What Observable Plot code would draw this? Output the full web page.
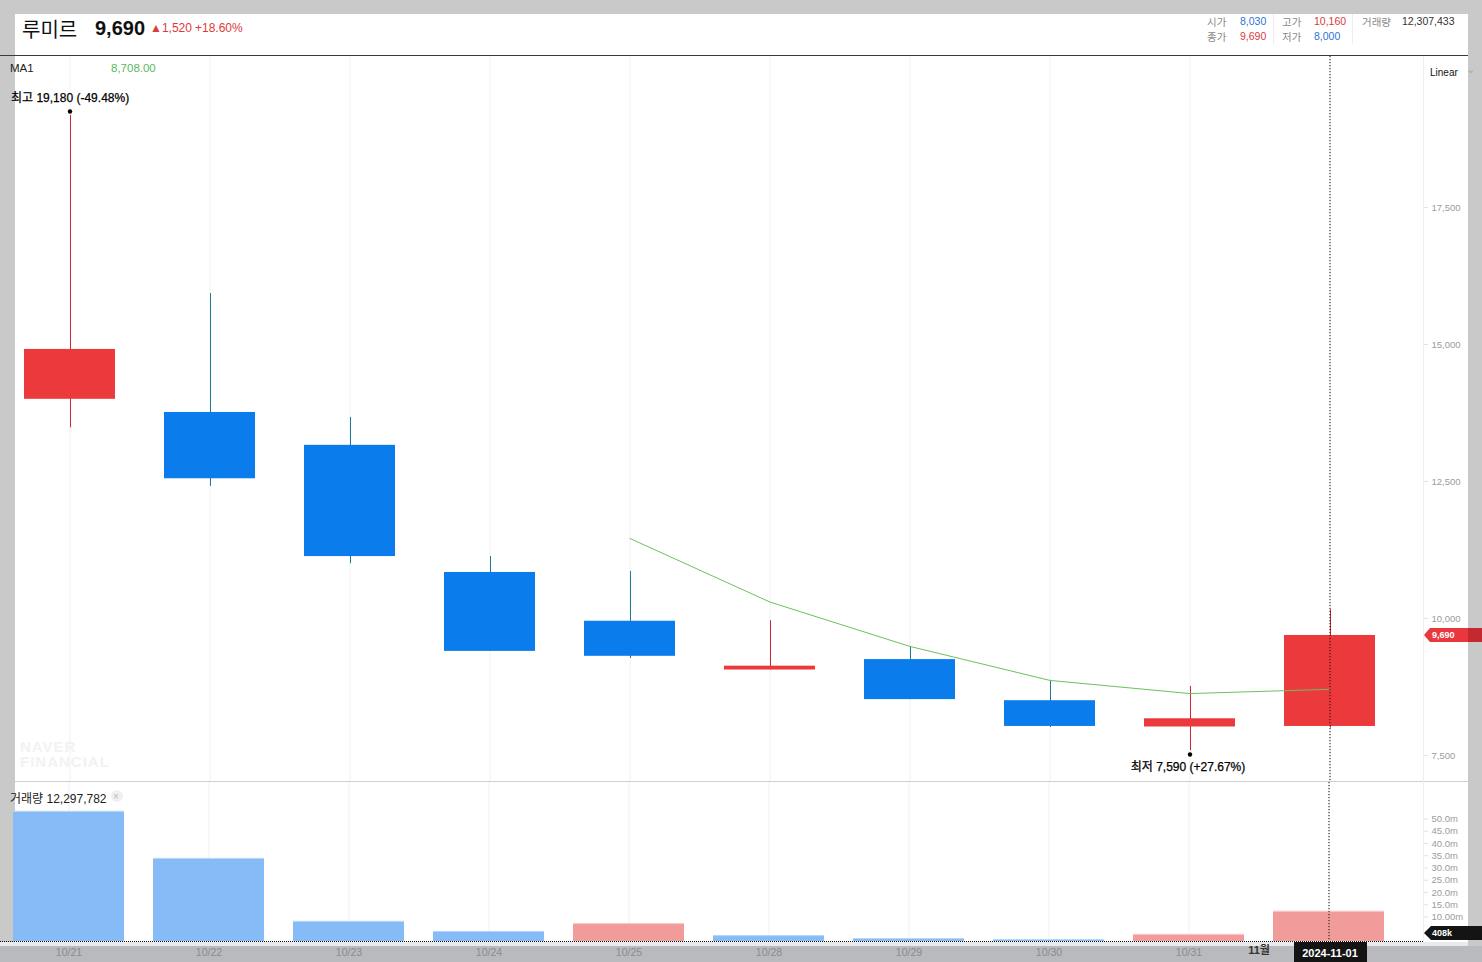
<!DOCTYPE html>
<html>
<head>
<meta charset="utf-8">
<script src="https://cdn.jsdelivr.net/npm/d3@7"></script>
<script src="https://cdn.jsdelivr.net/npm/@observablehq/plot@0.6"></script>
<style>
  html, body { margin: 0; padding: 0; }
  body { width: 1482px; height: 962px; background: #c9c9c9; position: relative; overflow: hidden;
         font-family: "Liberation Sans", "Noto Sans CJK KR", Arial, sans-serif; }
  .abs { position: absolute; }
  .lbl { position: absolute; white-space: nowrap; line-height: 1; }
</style>
</head>
<body>
<div id="root"></div>
<script>
// ---------------- data ----------------
const dates   = ["10/21","10/22","10/23","10/24","10/25","10/28","10/29","10/30","10/31","11/01"];
const opens   = [14000, 13760, 13160, 10840, 9950, 9060, 9250, 8500, 8020, 8030];
const closes  = [14910, 12550, 11130,  9400, 9310, 9130, 8520, 8030, 8170, 9690];
const highs   = [19180, 15930, 13670, 11130, 10860, 9960, 9490, 8870, 8760, 10160];
const lows    = [13480, 12410, 11000,  9400, 9270, 9060, 8520, 8010, 7590, 8000];
const volumes = [53100000, 33900000, 8200000, 4100000, 7300000, 2400000, 1200000, 800000, 2900000, 12307433];
const ma5     = [null, null, null, null, 11460, 10300, 9490, 8870, 8630, 8708];
const priceTicks  = [7500, 10000, 12500, 15000, 17500];
const volTicks    = [10e6, 15e6, 20e6, 25e6, 30e6, 35e6, 40e6, 45e6, 50e6];
const volTickLbls = ["10.00m","15.0m","20.0m","25.0m","30.0m","35.0m","40.0m","45.0m","50.0m"];
const stockName = "루미르";
const lastPrice = "9,690", change = "▲1,520", changePct = "+18.60%";
const hiLabel = "최고 19,180 (-49.48%)", loLabel = "최저 7,590 (+27.67%)";
const maLabel = "MA1", maValue = "8,708.00";
const volLabel = "거래량 12,297,782";
const crossDate = "11/01", crossDateFull = "2024-11-01", monthLabel = "11월";
const crossVolLabel = "408k", crossVol = 408000;

const rows = dates.map((d, i) => ({date: d, open: opens[i], close: closes[i], high: highs[i], low: lows[i],
  volume: volumes[i], ma: ma5[i], up: closes[i] >= opens[i],
  volUp: i > 0 && volumes[i] > volumes[i - 1]}));

const UP = "#ec393c", DOWN = "#0b7cec", UPW = "#d0282f", DOWNW = "#1f7a98", UPV = "#f29b9b", DOWNV = "#85bbf6";
const FONT = '"Liberation Sans", "Noto Sans CJK KR", Arial, sans-serif';
const root = document.getElementById("root");

function box(l, t, w, h, bg, extra = "") {
  const d = document.createElement("div");
  d.className = "abs";
  d.style.cssText = `left:${l}px;top:${t}px;width:${w}px;height:${h}px;background:${bg};${extra}`;
  root.appendChild(d); return d;
}
function label(txt, l, t, css) {
  const d = document.createElement("div");
  d.className = "lbl";
  d.style.cssText = `left:${l}px;top:${t}px;${css}`;
  d.innerHTML = txt; root.appendChild(d); return d;
}

// background panels
box(15, 14, 1453, 41, "#fff");
box(15, 56, 1453, 886, "#fff");
box(0, 942, 1468, 4, "#e8eaed");
box(0, 946, 1482, 16, "#b9babd");
box(0, 55, 1468, 1, "#3a3a3a");
box(15, 781, 1453, 1, "#cfcfcf");
box(1423, 56, 1, 886, "#eceef0");
// watermark
label("NAVER", 20, 739, "font:bold 15px/15px " + FONT + ";color:#f1f2f4;letter-spacing:1px;");
label("FINANCIAL", 20, 754, "font:bold 15px/15px " + FONT + ";color:#f1f2f4;letter-spacing:1px;");

// ---------------- price pane ----------------
const priceChart = Plot.plot({
  width: 1468, height: 725,
  marginLeft: 0, marginRight: 45, marginTop: 0, marginBottom: 0,
  style: {background: "transparent", overflow: "visible", fontFamily: FONT},
  x: {type: "band", domain: dates, range: [-1, 1399], paddingInner: 0.35, paddingOuter: 0.175, axis: null},
  y: {domain: [7025.5, 20255.5], range: [725, 0]},
  marks: [
    Plot.ruleX(dates, {x: d => d, stroke: "#f1f1f1"}),
    Plot.axisY({anchor: "right", ticks: priceTicks, tickSize: 4, tickPadding: 4, label: null,
      tickFormat: d3.format(","), fontSize: 9.5, stroke: "#e2e2e2", fill: "#9a9ca0"}),
    Plot.ruleX(rows, {x: "date", y1: "low", y2: "high", stroke: d => d.up ? UPW : DOWNW, strokeWidth: 1, dx: 0.5}),
    Plot.barY(rows.filter(d => d.up), {x: "date", y1: "open", y2: "close", fill: UP}),
    Plot.barY(rows.filter(d => !d.up), {x: "date", y1: "open", y2: "close", fill: DOWN}),
    Plot.line(rows.filter(d => d.ma != null), {x: "date", y: "ma", stroke: "#6cc05e", strokeWidth: 1}),
    Plot.ruleX([crossDate], {x: d => d, stroke: "#111", strokeDasharray: "1.2,1.8", strokeWidth: 1}),
    Plot.dot([rows[0]], {x: "date", y: "high", r: 2.2, fill: "#000", dy: -4}),
    Plot.text([rows[0]], {x: "date", y: "high", text: () => hiLabel, dx: -59, dy: -17, textAnchor: "start",
      fontSize: 12, fill: "#000", stroke: "#000", strokeWidth: 0.25}),
    Plot.dot([rows[8]], {x: "date", y: "low", r: 2.2, fill: "#000", dy: 4}),
    Plot.text([rows[8]], {x: "date", y: "low", text: () => loLabel, dx: -2, dy: 17, textAnchor: "middle",
      fontSize: 12, fill: "#000", stroke: "#000", strokeWidth: 0.25})
  ]
});
priceChart.style.position = "absolute";
priceChart.style.left = "0px";
priceChart.style.top = "56px";
root.appendChild(priceChart);

// ---------------- volume pane ----------------
const volChart = Plot.plot({
  width: 1468, height: 180,
  marginLeft: 0, marginRight: 45, marginTop: 0, marginBottom: 21,
  style: {background: "transparent", overflow: "visible", fontFamily: FONT},
  x: {type: "band", domain: dates, range: [-1, 1399], paddingInner: 0.207, paddingOuter: 0.1035},
  y: {domain: [0, 64.9e6], range: [159, 0]},
  marks: [
    Plot.ruleX(dates, {x: d => d, stroke: "#f1f1f1"}),
    Plot.barY(rows.filter(d => d.volUp), {x: "date", y: "volume", fill: UPV}),
    Plot.barY(rows.filter(d => !d.volUp), {x: "date", y: "volume", fill: DOWNV}),
    Plot.tickY(rows.filter(d => d.volUp), {x: "date", y: "volume", stroke: "#f8cccc"}),
    Plot.tickY(rows.filter(d => !d.volUp), {x: "date", y: "volume", stroke: "#b9d8fa"}),
    Plot.axisY({anchor: "right", ticks: volTicks, tickSize: 4, tickPadding: 4, label: null,
      tickFormat: d => volTickLbls[volTicks.indexOf(d)], fontSize: 9.5, stroke: "#e2e2e2", fill: "#9a9ca0"}),
    Plot.axisX({anchor: "bottom", tickSize: 0, tickPadding: 7, label: null,
      tickFormat: d => d === crossDate ? "" : d, fontSize: 10.5, fill: "#8a8b8f"}),
    Plot.text([crossDate], {x: d => d, frameAnchor: "bottom", text: () => monthLabel, dx: -70, dy: 12,
      fontSize: 11, fontWeight: "bold", fill: "#333"}),
    Plot.ruleY([0], {stroke: "#111", strokeDasharray: "1,1", strokeWidth: 1.2}),
    Plot.ruleX([crossDate], {x: d => d, stroke: "#111", strokeDasharray: "1.2,1.8", strokeWidth: 1})
  ]
});
volChart.style.position = "absolute";
volChart.style.left = "0px";
volChart.style.top = "782px";
root.appendChild(volChart);

// ---------------- tags from scales ----------------
const py = priceChart.scale("y");
const tagY = 56 + py.apply(9690);
box(1424, tagY - 7, 44, 14, "#e8383d", "clip-path:polygon(0 50%,6px 0,100% 0,100% 100%,6px 100%);");
box(1468, tagY - 7, 14, 14, "#c22a2f");
label(lastPrice, 1432, tagY - 5, "font:bold 9px " + FONT + ";color:#fff;");

const vy = volChart.scale("y");
const vTagY = Math.min(782 + vy.apply(crossVol), 933);
box(1424, vTagY - 7, 58, 14, "#141414", "clip-path:polygon(0 50%,7px 0,100% 0,100% 100%,7px 100%);");
label(crossVolLabel, 1432, vTagY - 5, "font:bold 9px " + FONT + ";color:#fff;");

const vx = volChart.scale("x");
const cx = vx.apply(crossDate) + vx.bandwidth / 2;
box(cx - 35, 942, 73, 20, "#141414");
label(crossDateFull, cx - 35, 947, "width:73px;text-align:center;font:bold 11px " + FONT + ";color:#fff;");

// ---------------- header ----------------
label(stockName, 22, 14, "font:20px 'Noto Sans CJK KR', sans-serif;color:#111;");
label(lastPrice, 95, 17, "font:bold 20px " + FONT + ";color:#111;");
label(change, 150, 21, "font:12px " + FONT + ";color:#e0393b;");
label(changePct, 195, 21, "font:12px " + FONT + ";color:#e0393b;");

const hs = "font:10.5px " + FONT + ";";
label("시가", 1207, 14, hs + "color:#8a8a8a;");
label("8,030", 1240, 15, hs + "color:#2d74d6;");
label("종가", 1207, 29, hs + "color:#8a8a8a;");
label("9,690", 1240, 30, hs + "color:#d83b3d;");
box(1273, 14, 1, 30, "#ececec");
label("고가", 1282, 14, hs + "color:#8a8a8a;");
label("10,160", 1314, 15, hs + "color:#d83b3d;");
label("저가", 1282, 29, hs + "color:#8a8a8a;");
label("8,000", 1314, 30, hs + "color:#2d74d6;");
box(1352, 14, 1, 30, "#ececec");
label("거래량", 1362, 14, hs + "color:#8a8a8a;");
label("12,307,433", 1402, 15, hs + "color:#333;");

// pane labels
label(maLabel, 10, 62, "font:11.5px " + FONT + ";color:#222;");
label(maValue, 111, 62, "font:11.5px " + FONT + ";color:#5cb85c;");
label("Linear", 1430, 67, "font:10px " + FONT + ";color:#111;");
label("&#8964;", 1466, 63, "font:11px " + FONT + ";color:#aaa;");
label(volLabel, 10, 789, "font:12px " + FONT + ";color:#222;");
box(111, 790, 12, 12, "#f0f0f0", "border-radius:6px;");
label("×", 113, 791, "font:10px " + FONT + ";color:#bbb;");
</script>
</body>
</html>
